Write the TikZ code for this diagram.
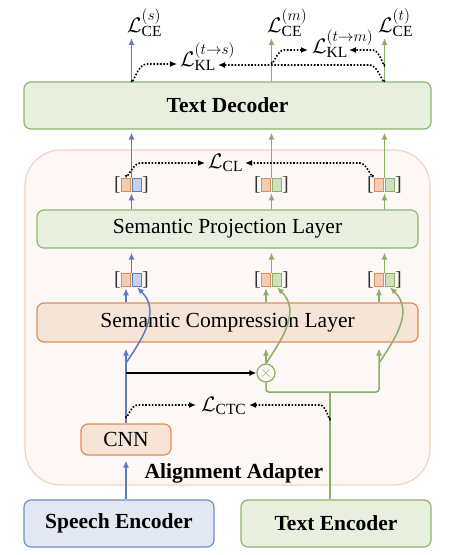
\RequirePackage{fix-cm}
\documentclass[tikz,border=0pt]{standalone}
\usepackage{fontspec}
\setmainfont{Liberation Serif}
\DeclareMathSizes{21}{21}{15.5}{11}
\usetikzlibrary{arrows.meta,calc}
\definecolor{cblue}{HTML}{5A7DC1}
\definecolor{cgreen}{HTML}{89B067}
\definecolor{corange}{HTML}{DF8C56}
\definecolor{fblue}{HTML}{E2E7F2}
\definecolor{fgreen}{HTML}{E8EFDF}
\definecolor{forange}{HTML}{F6E5D7}
\definecolor{fadapt}{HTML}{FDF8F5}
\definecolor{dadapt}{HTML}{F3D3BD}
\definecolor{bgreen}{HTML}{8DB56B}
\definecolor{bblue}{HTML}{6E8FD0}
\definecolor{sqorange}{HTML}{F2CDB3}
\definecolor{sqblue}{HTML}{C6D1EB}
\definecolor{sqgreen}{HTML}{CFE0BE}
\newcommand\brgroup[4]{%
  \node[sqo] (#1o) at (#2,#3) {};
  \node[sq#4] (#1s) at ({#2+11},#3) {};
  \node[brk] (#1l) at ({#2-8.5},#3) {[};
  \node[brk] (#1r) at ({#2+19.5},#3) {]};
  \coordinate (#1c) at ({#2+5.5},#3);
}
\begin{document}
\begin{tikzpicture}[x=1pt,y=-1pt,
  txt/.style={font=\fontsize{21.5}{24}\selectfont},
  btxt/.style={font=\fontsize{21.5}{24}\selectfont\bfseries},
  blk/.style={draw, line width=1.2pt, rounded corners=7pt, inner sep=0pt},
  gbox/.style={blk, draw=bgreen, fill=fgreen},
  bbox/.style={blk, draw=bblue, fill=fblue},
  obox/.style={blk, draw=corange, fill=forange},
  sqo/.style={draw=corange, fill=sqorange, line width=1pt, minimum width=8.5pt, minimum height=13.5pt, inner sep=0pt},
  sqb/.style={draw=cblue, fill=sqblue, line width=1pt, minimum width=8.5pt, minimum height=13.5pt, inner sep=0pt},
  sqg/.style={draw=cgreen, fill=sqgreen, line width=1pt, minimum width=8.5pt, minimum height=13.5pt, inner sep=0pt},
  brk/.style={inner sep=0pt, text=black!80, font=\fontsize{20}{22}\selectfont},
  mlbl/.style={inner sep=0pt, anchor=base west, font=\fontsize{21}{24}\selectfont},
  tip/.style={-{Latex[length=7pt,width=6pt]}},
  bflow/.style={tip, draw=cblue, line width=1.5pt},
  gflow/.style={tip, draw=cgreen, line width=1.5pt},
  gline/.style={draw=cgreen, line width=1.5pt},
  kflow/.style={tip, draw=black, line width=1.5pt},
  dflow/.style={-{Latex[length=7pt,width=6pt]}, draw=black, line width=1.6pt, dash pattern=on 1.6pt off 1.7pt},
]
\useasboundingbox (0,0) rectangle (451,555);
\fill[white] (0,0) rectangle (451,555);

% adapter background
\node[draw=dadapt, fill=fadapt, line width=1.2pt, rounded corners=36pt, minimum width=405pt, minimum height=335pt] (adapt) at (227.5,317.5) {};
\node[btxt] (adlbl) at (234,473) {Alignment Adapter};

% boxes
\node[gbox, minimum width=407pt, minimum height=47pt, btxt] (dec) at (227.5,105.5) {Text Decoder};
\node[gbox, minimum width=381pt, minimum height=38pt, txt] (proj) at (227.5,229) {Semantic Projection Layer};
\node[obox, minimum width=381pt, minimum height=39pt, txt] (comp) at (227.5,322.5) {Semantic Compression Layer};
\node[obox, minimum width=90pt, minimum height=31pt, txt] (cnn) at (126,439.5) {CNN};
\node[bbox, minimum width=190pt, minimum height=47pt, btxt] (senc) at (119,523.5) {Speech Encoder};
\node[gbox, minimum width=190pt, minimum height=47pt, btxt] (tenc) at (336,523.5) {Text Encoder};

% bracket groups
\brgroup{L1}{126}{280}{b}
\brgroup{L2}{266}{280}{g}
\brgroup{L3}{379}{280}{g}
\brgroup{U1}{126}{185}{b}
\brgroup{U2}{266}{185}{g}
\brgroup{U3}{379}{185}{g}

% multiply node
\node[circle, draw=cgreen, line width=1.2pt, minimum size=18pt, inner sep=0pt, fill=fadapt, text=cgreen, font=\fontsize{16}{16}\selectfont] (mul) at (266,373) {$\times$};

% labels
\node[mlbl] (ce1) at (127,32) {$\mathcal{L}^{(s)}_{\mathrm{CE}}$};
\node[mlbl] (ce2) at (267,32) {$\mathcal{L}^{(m)}_{\mathrm{CE}}$};
\node[mlbl] (ce3) at (378,32) {$\mathcal{L}^{(t)}_{\mathrm{CE}}$};
\node[mlbl] (kl1) at (180,66) {$\mathcal{L}^{(t\rightarrow s)}_{\mathrm{KL}}$};
\node[mlbl] (kl2) at (312,53) {$\mathcal{L}^{(t\rightarrow m)}_{\mathrm{KL}}$};
\node[mlbl] (cl) at (208,168) {$\mathcal{L}_{\mathrm{CL}}$};
\node[mlbl] (ctc) at (201,411) {$\mathcal{L}_{\mathrm{CTC}}$};

% coordinates
\coordinate (bj) at (126,373);
\coordinate (bc) at (126,363);
\coordinate (tj) at (330,392);
\coordinate (rc) at (379,392);
\coordinate (gc) at (379,363);

% speech path
\draw[bflow, shorten >=5pt] (cnn.south |- senc.north) -- (cnn.south);
\draw[bflow, shorten >=6pt] (cnn.north) -- (cnn.north |- comp.south);
\draw[kflow] (bj) -- (mul.west);
\draw[bflow] (bc) .. controls (145,335) and (160,310) .. (L1s.south);

% text path
\draw[gline] (tenc.north -| tj) -- (tj);
\draw[gflow, rounded corners=3pt, shorten >=6pt] (mul.south) -- (mul.south |- tj) -- (rc) -- (rc |- comp.south);
\draw[gflow, shorten >=6pt] (mul.north) -- (mul.north |- comp.south);
\draw[gflow] (mul.north) .. controls (285,335) and (300,310) .. (L2s.south);
\draw[gflow] (gc) .. controls (398,335) and (413,310) .. (L3s.south);

% compression -> lower brackets
\draw[bflow, shorten >=1pt] (L1o.south |- comp.north) -- (L1o.south);
\draw[gflow, shorten >=1pt] (L2o.south |- comp.north) -- (L2o.south);
\draw[gflow, shorten >=1pt] (L3o.south |- comp.north) -- (L3o.south);
% lower brackets -> projection
\draw[bflow, shorten >=4pt] (L1c |- L1o.north) -- (L1c |- proj.south);
\draw[gflow, shorten >=4pt] (L2c |- L2o.north) -- (L2c |- proj.south);
\draw[gflow, shorten >=4pt] (L3c |- L3o.north) -- (L3c |- proj.south);
% projection -> upper brackets
\draw[bflow, shorten >=1pt] (U1c |- proj.north) -- (U1c |- U1o.south);
\draw[gflow, shorten >=1pt] (U2c |- proj.north) -- (U2c |- U2o.south);
\draw[gflow, shorten >=1pt] (U3c |- proj.north) -- (U3c |- U3o.south);
% upper brackets -> decoder
\draw[bflow, shorten >=3pt] (U1c |- U1o.north) -- (U1c |- dec.south);
\draw[gflow, shorten >=3pt] (U2c |- U2o.north) -- (U2c |- dec.south);
\draw[gflow, shorten >=3pt] (U3c |- U3o.north) -- (U3c |- dec.south);
% decoder -> outputs
\draw[bflow, shorten >=1pt] (U1c |- dec.north) -- (U1c |- ce1.south);
\draw[gflow, shorten >=1pt] (U2c |- dec.north) -- (U2c |- ce2.south);
\draw[gflow, shorten >=1pt] (U3c |- dec.north) -- (U3c |- ce3.south);

% dotted losses
\draw[dflow] ($(U1c |- dec.north)+(0,-1)$) to[out=270,in=180] (146,64) -- ($(kl1.base west)+(-3,-2)$);
\draw[dflow] ($(U3c |- dec.north)+(0,-1)$) to[out=270,in=0] (370,65) -- (218,65);
\draw[dflow] (271.5,62) to[out=270,in=180] (284,50) -- ($(kl2.base west)+(-4,-3)$);
\draw[dflow] (384.5,64) to[out=270,in=0] (373,50) -- (349,50);
\draw[dflow] (126,175) to[out=270,in=180] (140,163) -- ($(cl.base west)+(-3,-5)$);
\draw[dflow] (373,175) to[out=270,in=0] (360,163) -- (245,163);
\draw[dflow] (126,416) to[out=270,in=180] (137,405) -- ($(ctc.base west)+(-5,-6)$);
\draw[dflow] (tj |- 0,418) to[out=270,in=0] (320,405) -- (249,405);
\end{tikzpicture}
\end{document}
